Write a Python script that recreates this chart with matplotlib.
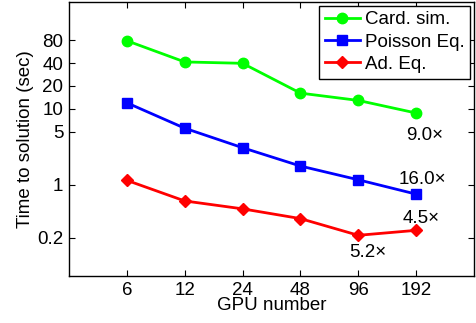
import numpy as np
import matplotlib
matplotlib.use("Agg")
import matplotlib.pyplot as plt

plt.rcParams['font.family'] = ['Liberation Sans', 'DejaVu Sans']

gpus = [6, 12, 24, 48, 96, 192]
card_sim = [79, 41.5, 39.8, 16.1, 12.9, 8.8]
poisson = [12.0, 5.55, 3.07, 1.76, 1.16, 0.75]
ad_eq = [1.14, 0.61, 0.48, 0.357, 0.215, 0.25]

yticks = [0.2, 1, 5, 10, 20, 40, 80]
ytick_labels = ["0.2", "1", "5", "10", "20", "40", "80"]

fs = 13.5

fig = plt.figure(figsize=(4.77, 3.23), dpi=100)
ax = fig.add_axes([69/477, 1-276/323, (474-69)/477, (276-2)/323])

ax.plot(gpus, card_sim, color='#00ff00', lw=2, marker='o', ms=7.5, label='Card. sim.')
ax.plot(gpus, poisson, color='#0000ff', lw=2, marker='s', ms=6.5, label='Poisson Eq.')
ax.plot(gpus, ad_eq, color='#ff0000', lw=2, marker='D', ms=6.5, label='Ad. Eq.')

ax.set_xscale('log', base=2)
ax.set_yscale('log')
ax.set_xlim(3, 384)
ax.set_ylim(1/16, 256)
ax.set_xticks(gpus)
ax.set_xticklabels([str(g) for g in gpus])
ax.set_yticks(yticks)
ax.set_yticklabels(ytick_labels)
ax.minorticks_off()
ax.tick_params(direction='in', top=True, right=True, labelsize=fs, length=4, width=0.8, pad=4)
for s in ax.spines.values():
    s.set_linewidth(1.0)

ax.set_xlabel("GPU number", fontsize=fs, labelpad=-1)
ax.set_ylabel("Time to solution (sec)", fontsize=fs, labelpad=2)

ax.annotate("9.0\u00d7", (gpus[5], card_sim[5]), xytext=(9, -22), textcoords='offset pixels',
            ha='center', va='center', fontsize=fs)
ax.annotate("16.0\u00d7", (gpus[5], poisson[5]), xytext=(6, 15), textcoords='offset pixels',
            ha='center', va='center', fontsize=fs)
ax.annotate("4.5\u00d7", (gpus[5], ad_eq[5]), xytext=(5, 12), textcoords='offset pixels',
            ha='center', va='center', fontsize=fs)
ax.annotate("5.2\u00d7", (gpus[4], ad_eq[4]), xytext=(10, -17), textcoords='offset pixels',
            ha='center', va='center', fontsize=fs)

leg = ax.legend(loc='upper right', fontsize=fs, fancybox=False, framealpha=1,
                edgecolor='black', borderaxespad=0.2, handlelength=1.9,
                handletextpad=0.25, borderpad=0.3, labelspacing=0.27)
leg.get_frame().set_linewidth(1.0)

fig.savefig("out.png", dpi=100)
